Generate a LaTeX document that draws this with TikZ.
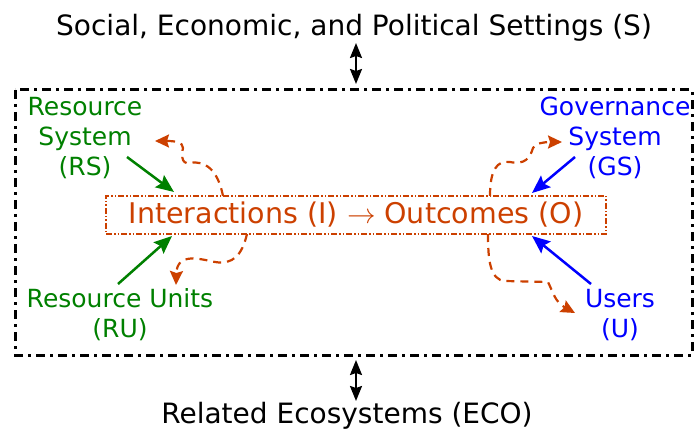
\documentclass[tikz,border=0pt]{standalone}
\usepackage{fontspec}
\setmainfont{DejaVu Sans}
\newfontfamily\lmmath{Latin Modern Math}
\usetikzlibrary{arrows.meta}
\definecolor{iocol}{RGB}{204,64,0}
\definecolor{rsgreen}{RGB}{0,128,0}
\definecolor{gsblue}{RGB}{0,0,255}
\tikzset{
  txt/.style={font=\fontsize{25}{30}\selectfont, align=center, inner sep=0pt},
  ttl/.style={font=\fontsize{28}{32}\selectfont, inner sep=0pt},
  frame/.style={line width=3pt, dash pattern=on 9pt off 5pt on 3pt off 5pt},
  dblarrow/.style={line width=2pt, {Stealth[length=15pt,width=12pt,inset=2pt]}-{Stealth[length=15pt,width=12pt,inset=2pt]}},
  greenarrow/.style={draw=rsgreen, line width=2.5pt, -{Stealth[length=18pt,width=15pt,inset=3pt]}},
  bluearrow/.style={draw=gsblue, line width=2.5pt, -{Stealth[length=18pt,width=15pt,inset=3pt]}},
  orarrow/.style={draw=iocol, line width=2.2pt, dash pattern=on 8pt off 6pt, -{Stealth[length=14pt,width=13pt,inset=2pt]}},
  iobox/.style={draw=iocol, line width=1.3pt, dash pattern=on 6pt off 2pt on 1.5pt off 2pt on 1.5pt off 2pt,
    minimum width=500pt, minimum height=38pt, text=iocol, font=\fontsize{28.5}{32}\selectfont, inner sep=0pt}
}
\begin{document}
\begin{tikzpicture}[x=1pt,y=-1pt]
\useasboundingbox (0,0) rectangle (694,433);
\draw[frame] (15,90) rectangle (692,355);

\node[ttl] (S) at (354,28) {Social, Economic, and Political Settings (S)};
\node[ttl] (ECO) at (347,416) {Related Ecosystems (ECO)};
\coordinate (sa) at (356,43);
\coordinate (sb) at (356,84);
\coordinate (ea) at (356,360);
\coordinate (eb) at (356,401);
\draw[dblarrow] (sa) -- (sb);
\draw[dblarrow] (ea) -- (eb);

\node[iobox] (IO) at (356,215) {Interactions (I) {\lmmath →} Outcomes (O)};

\node[txt, text=rsgreen] (RS) at (85,138) {Resource\\System\\(RS)};
\node[txt, text=rsgreen] (RU) at (120,315) {Resource Units\\(RU)};
\node[txt, text=gsblue] (GS) at (615,138) {Governance\\System\\(GS)};
\node[txt, text=gsblue] (U) at (620,315) {Users\\(U)};

\coordinate (rs1) at (127,157);
\coordinate (rs2) at (174,192);
\coordinate (ru1) at (118,284);
\coordinate (ru2) at (172,236);
\coordinate (gs1) at (575,157);
\coordinate (gs2) at (532,193);
\coordinate (u1) at (591,284);
\coordinate (u2) at (532,236);
\draw[greenarrow] (rs1) -- (rs2);
\draw[greenarrow] (ru1) -- (ru2);
\draw[bluearrow] (gs1) -- (gs2);
\draw[bluearrow] (u1) -- (u2);

\coordinate (tl0) at (223,196);
\coordinate (tl1) at (155,141);
\draw[orarrow] (tl0) .. controls (218,170) and (205,160) .. (190,163)
  .. controls (180,165) and (182,152) .. (183,148)
  .. controls (183,142) and (175,141) .. (tl1);

\coordinate (bl0) at (247,234);
\coordinate (bl1) at (176,285);
\draw[orarrow] (bl0) .. controls (242,255) and (233,265) .. (215,262)
  .. controls (200,259) and (177,252) .. (bl1);

\coordinate (tr0) at (490,196);
\coordinate (tr1) at (562,142);
\draw[orarrow] (tr0) .. controls (490,170) and (497,160) .. (510,162)
  .. controls (525,165) and (530,158) .. (533,148)
  .. controls (535,143) and (545,142) .. (tr1);

\coordinate (br0) at (488,234);
\coordinate (br1) at (575,313);
\draw[orarrow] (br0) .. controls (488,260) and (490,280) .. (505,281)
  -- (548,282) .. controls (553,292) and (555,302) .. (br1);
\end{tikzpicture}
\end{document}
